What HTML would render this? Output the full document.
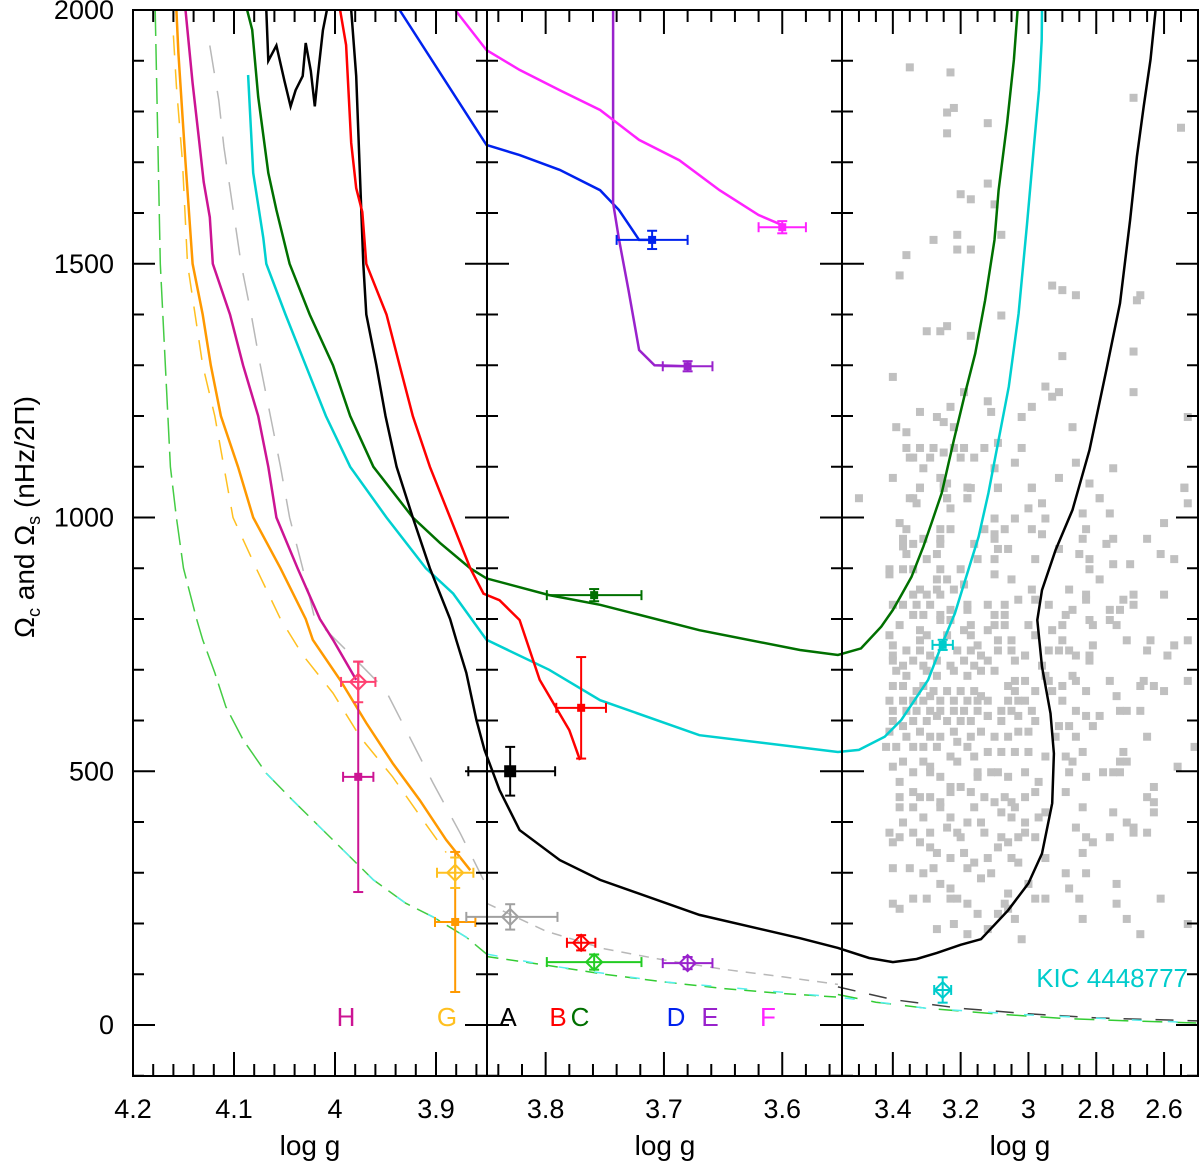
<!DOCTYPE html>
<html><head><meta charset="utf-8"><style>
body{margin:0;background:#fff}
svg{display:block;font-family:"Liberation Sans",sans-serif}
</style></head><body>
<div style="position:relative;width:1200px;height:1165px">
<svg id="chart" width="1200" height="1165" viewBox="0 0 1200 1165" style="position:absolute;left:0;top:0">
<defs><clipPath id="plotclip"><rect x="133" y="10" width="1065" height="1066"/></clipPath></defs>
<g id="scatter" clip-path="url(#plotclip)"></g>
<g id="curves" clip-path="url(#plotclip)"></g>
<g id="points"></g>
<g id="axes"></g>
<g id="labels"></g>
<text x="310" y="1155" text-anchor="middle" font-size="28">log  g</text>
<text x="665" y="1155" text-anchor="middle" font-size="28">log  g</text>
<text x="1020" y="1155" text-anchor="middle" font-size="28">log  g</text>
<text transform="translate(34,517) rotate(-90)" text-anchor="middle" font-size="28">Ω<tspan font-size="18" dy="6">c</tspan><tspan dy="-6"> and Ω</tspan><tspan font-size="18" dy="6">s</tspan><tspan dy="-6"> (nHz/2Π)</tspan></text>
<g font-size="26">
 <text x="346" y="1026" fill="#cc1493" text-anchor="middle">H</text>
 <text x="447" y="1026" fill="#ffc020" text-anchor="middle">G</text>
 <text x="508" y="1026" fill="#000" text-anchor="middle">A</text>
 <text x="558" y="1026" fill="#ff0000" text-anchor="middle">B</text>
 <text x="580" y="1026" fill="#007000" text-anchor="middle">C</text>
 <text x="676" y="1026" fill="#0022ee" text-anchor="middle">D</text>
 <text x="710" y="1026" fill="#9922cc" text-anchor="middle">E</text>
 <text x="768" y="1026" fill="#ff22ff" text-anchor="middle">F</text>
 <text x="1188" y="987" fill="#00cccc" text-anchor="end">KIC  4448777</text>
</g>
</svg>
</div>
<script>
// ---- data ----
const yTicks = [0, 500, 1000, 1500, 2000];
const xTickLabels = ["4.2","4.1","4","3.9","3.8","3.7","3.6","3.4","3.2","3","2.8","2.6"];
const xTickValues = [4.2,4.1,4.0,3.9,3.8,3.7,3.6,3.4,3.2,3.0,2.8,2.6];

const curveNames = ["green-lower","gray-dashed","yellow-dashed","orange-G","magenta-H","cyan","darkgreen","black-A","red-B","blue-D","purple-E","pink-F","gray-lower","green-lower-2","gray-p3","green-p3","cyan-lower"];
const curveColors = ["#44cc44","#b8b8b8","#ffc020","#ff9900","#cc1493","#00d0d0","#007000","#000000","#ff0000","#0022ee","#9922cc","#ff22ff","#b8b8b8","#33cc33","#404040","#33cc33","#55eeee"];
const curveDash = ["26 8","28 18","20 14","","","","","","","","","","10 8","12 8","18 14","20 14","10 26"];
const curveG = [
 [4.178,4.173,4.163,4.157,4.15,4.137,4.131,4.119,4.108,4.091,4.068,4.042,4.015,3.985,3.962,3.93,3.903,3.87,3.85],
 [4.124,4.115,4.11,4.093,4.083,4.074,4.064,4.054,4.045,4.032,4.02,3.982,3.95,3.926,3.903,3.876,3.853],
 [4.16,4.157,4.151,4.146,4.131,4.119,4.101,4.078,4.054,4.032,4.002,3.975,3.943,3.913,3.89],
 [4.157,4.155,4.148,4.141,4.131,4.123,4.113,4.096,4.081,4.054,4.029,4.022,3.995,3.969,3.943,3.916,3.89,3.866],
 [4.148,4.141,4.135,4.13,4.124,4.121,4.104,4.091,4.076,4.066,4.058,4.037,4.015,4.002,3.979],
 [4.086,4.081,4.071,4.068,4.049,4.029,4.009,3.985,3.949,3.91,3.883,3.85,3.797,3.754,3.67,3.553,3.5,3.424,3.375,3.296,3.256,3.217,3.177,3.147,3.118,3.088,3.058,3.029,3.004,2.984,2.969,2.961,2.96],
 [4.087,4.082,4.076,4.066,4.058,4.045,4.025,4.002,3.985,3.962,3.923,3.896,3.866,3.85,3.797,3.754,3.67,3.585,3.553,3.494,3.434,3.40,3.375,3.345,3.31,3.286,3.256,3.22,3.187,3.157,3.128,3.10,3.088,3.063,3.043,3.032],
 [4.068,4.066,4.058,4.05,4.044,4.039,4.032,4.029,4.024,4.02,4.017,4.012,4.008,3.99,3.984,3.984,3.979,3.972,3.969,3.959,3.95,3.939,3.923,3.906,3.886,3.88,3.87,3.86,3.852,3.839,3.822,3.788,3.754,3.67,3.585,3.553,3.47,3.40,3.33,3.27,3.2,3.14,3.06,3.0,2.96,2.93,2.925,2.935,2.96,2.974,2.96,2.92,2.87,2.82,2.77,2.73,2.70,2.68,2.66,2.64,2.625],
 [3.995,3.989,3.984,3.979,3.973,3.969,3.949,3.936,3.923,3.906,3.886,3.866,3.853,3.839,3.822,3.805,3.78,3.771],
 [3.936,3.85,3.822,3.788,3.754,3.738,3.721,3.71],
 [3.743,3.743,3.738,3.73,3.721,3.708,3.68],
 [3.881,3.85,3.822,3.788,3.754,3.721,3.687,3.653,3.62,3.6],
 [3.85,3.8,3.75,3.7,3.65,3.6,3.553],
 [3.85,3.8,3.75,3.7,3.65,3.6,3.553],
 [3.553,3.4,3.2,3.0,2.8,2.5],
 [3.553,3.45,3.3,3.1,2.9,2.7,2.5],
 [4.068,4.042,4.015,3.985,3.962,3.93,3.903,3.87,3.85,3.8,3.7,3.553,3.3,3.0,2.5]
];
const curveV = [
 [2000,1500,1100,1000,900,800,759,694,627,562,496,443,390,331,286,240,213,173,140],
 [1930,1822,1730,1500,1400,1300,1200,1100,1000,900,800,725,660,567,477,378,286],
 [1950,1850,1700,1500,1300,1200,1000,900,800,729,654,567,489,404,340],
 [2000,1915,1700,1500,1400,1300,1200,1100,1000,900,800,759,680,595,516,443,365,305],
 [2000,1856,1750,1661,1592,1500,1400,1300,1200,1100,1000,900,800,759,680],
 [1872,1679,1551,1500,1400,1300,1200,1100,1000,900,850,759,700,640,571,538,542,568,601,680,749,811,897,962,1048,1153,1258,1402,1580,1731,1842,1941,2000],
 [2000,1961,1829,1679,1606,1500,1400,1300,1200,1100,1000,950,900,880,847,828,778,739,729,742,785,818,847,883,943,989,1048,1153,1245,1323,1428,1547,1645,1777,1902,2000],
 [2000,1900,1930,1860,1810,1842,1870,1935,1880,1810,1870,1960,2000,2100,2100,2000,1870,1500,1400,1300,1200,1100,1000,900,800,759,694,601,542,463,384,325,286,217,171,152,132,124,130,142,158,169,226,279,338,437,535,614,706,798,857,936,1015,1133,1291,1422,1586,1711,1810,1902,2000],
 [2000,1931,1738,1649,1602,1500,1400,1300,1200,1100,1000,900,850,837,798,680,581,522],
 [2000,1734,1714,1685,1645,1606,1547,1547],
 [2000,1620,1548,1448,1330,1300,1298],
 [2000,1921,1882,1842,1803,1744,1704,1645,1596,1576],
 [240,185,150,128,110,95,80],
 [135,118,100,85,72,62,55],
 [75,50,33,22,14,8],
 [60,45,33,22,13,8,4],
 [496,443,390,331,286,240,213,173,140,118,85,55,33,20,4]
];

// measurement points: logg, value, xerr, yerr
const ptNames = ["H-square","H-diamond","G-square","G-diamond","A-square","A-diamond","B-square","B-diamond","C-square","C-diamond","D-square","E-square","E-diamond","F-square","KIC-square","KIC-diamond"];
const ptG = [3.977,3.977,3.881,3.881,3.83,3.83,3.77,3.77,3.759,3.759,3.71,3.68,3.68,3.60,3.253,3.253];
const ptV = [489,676,203,300,500,213,625,162,847,124,1547,1298,122,1572,749,69];
const ptXe = [0.015,0.017,0.02,0.018,0.038,0.04,0.021,0.012,0.04,0.04,0.03,0.021,0.021,0.02,0.03,0.025];
const ptYe = [227,40,138,30,48,25,100,15,12,15,18,10,12,12,10,25];
const ptShape = ["s","d","s","d","S","d","s","d","s","d","s","s","d","s","s","d"];
const ptColor = ["#cc1493","#ff4070","#ff9900","#ffc020","#000000","#a0a0a0","#ff0000","#ff0000","#007000","#22cc22","#0022ee","#9922cc","#9922cc","#ff22ff","#00cccc","#00cccc"];

const scG = [3.35,3.23,3.22,3.24,3.12,3.24,2.69,2.55,3.12,3.20,3.17,3.10,3.21,3.08,3.28,3.21,3.17,3.36,3.38,2.93,2.90,2.86,2.67,2.68,3.08,3.30,3.26,3.24,3.17,2.69,2.90,3.40,3.19,2.95,2.91,2.93,2.69,3.12,3.23,3.11,2.99,3.32,3.27,3.25,3.02,2.53,3.39,3.36,3.22,2.87,3.36,3.32,3.28,3.22,3.19,3.13,3.09,3.02,3.25,3.35,3.34,3.29,3.20,3.16,3.31,3.10,3.04,2.86,2.75,3.40,3.26,3.24,3.32,3.25,3.17,3.09,2.99,2.91,2.82,2.54,3.50,3.35,3.24,3.18,2.79,
3.32,3.25,3.18,3.09,2.99,2.82,2.54,3.34,3.24,3.18,2.96,2.79,2.53,3.33,3.23,3.00,2.84,2.76,3.38,3.26,3.23,3.10,3.04,2.95,2.60,3.36,3.13,3.07,2.99,2.83,3.37,3.31,3.26,3.10,2.96,3.34,3.37,3.26,3.16,3.10,2.84,2.75,2.65,2.77,3.36,3.27,3.09,3.06,2.85,2.82,2.61,2.91,3.41,3.41,3.37,3.34,3.30,3.26,3.20,3.15,3.10,2.98,2.82,2.75,2.70,2.57,3.10,3.05,2.79,3.27,3.24,3.32,3.27,3.22,2.99,2.88,3.19,3.34,3.30,3.26,3.03,2.98,2.83,2.72,2.69,2.60,3.40,3.37,3.33,3.29,3.18,3.12,3.07,2.94,2.69,2.83,3.34,3.31,3.26,3.23,3.18,3.10,3.07,2.89,2.87,2.82,2.76,2.76,2.73,3.38,3.26,3.23,3.17,3.12,3.10,3.07,3.00,2.93,2.90,2.81,2.74,3.41,3.32,3.30,3.24,3.19,3.17,2.98,3.40,3.32,3.15,3.09,3.05,2.90,2.81,2.71,2.64,2.57,2.53,3.40,3.36,3.32,3.29,3.21,3.17,3.14,3.09,3.05,3.01,2.94,2.91,2.88,2.86,2.82,2.65,2.59,3.40,3.37,3.34,3.31,3.27,3.23,3.19,3.16,3.12,3.04,3.01,2.96,2.82,3.39,3.36,3.30,3.27,3.22,3.18,3.14,3.10,3.04,3.01,2.95,2.94,2.87,2.86,2.76,2.67,2.66,2.63,2.53,3.40,3.37,3.33,3.31,3.28,3.24,3.20,3.16,3.14,3.06,3.04,2.98,2.93,2.90,2.83,2.60,3.41,3.37,3.34,3.31,3.29,3.26,3.22,3.18,3.15,3.12,3.06,3.03,3.01,2.90,2.74,3.40,3.36,3.33,3.29,3.26,3.22,3.19,3.15,3.12,3.08,3.05,2.99,2.86,2.73,2.71,2.67,3.40,3.37,3.34,3.30,3.27,3.24,3.20,3.17,3.12,3.08,3.03,2.98,2.91,2.88,2.83,2.79,2.81,3.41,3.36,3.32,3.29,3.26,3.22,3.17,3.14,3.10,3.06,3.03,3.00,2.92,2.86,2.65,3.42,3.39,3.34,3.31,3.27,3.21,3.18,3.12,3.08,3.04,3.00,2.95,2.89,2.84,2.72,2.51,3.37,3.31,3.29,3.23,3.21,3.16,2.87,2.73,2.71,2.56,3.40,3.34,3.29,3.15,3.11,3.09,3.06,3.01,2.97,2.88,2.83,2.78,2.75,2.73,3.38,3.26,3.15,3.23,3.20,3.17,3.23,3.34,3.32,3.29,3.26,3.38,3.13,3.10,3.07,3.05,3.01,2.98,2.89,2.63,2.65,2.63,3.38,3.34,3.26,3.16,3.08,3.04,2.95,2.84,2.75,2.63,3.37,3.31,3.23,3.18,3.14,3.05,3.01,2.97,2.71,3.41,3.34,3.29,3.24,3.21,3.13,3.08,3.03,3.01,2.98,2.86,2.69,2.65,3.40,3.38,3.32,3.29,3.20,3.09,3.06,2.83,2.81,2.76,2.69,3.27,3.23,3.19,3.12,3.05,3.03,3.16,2.95,2.84,3.40,3.35,3.31,3.28,3.18,3.11,2.89,2.83,3.14,3.26,3.23,3.06,3.00,2.88,2.74,3.34,3.30,3.23,3.21,2.98,2.95,2.85,2.61,3.40,3.38,3.18,3.07,3.06,2.74,3.15,3.09,3.04,2.84,2.71,3.27,3.22,3.12,3.18,3.02,2.53,2.67];
const scV = [1887,1877,1807,1798,1777,1757,1827,1768,1658,1637,1627,1617,1557,1557,1547,1528,1528,1517,1477,1457,1448,1438,1438,1428,1398,1367,1367,1377,1358,1327,1318,1277,1247,1258,1247,1238,1247,1229,1218,1208,1218,1208,1198,1188,1198,1198,1178,1168,1178,1178,1137,1137,1137,1137,1137,1137,1147,1137,1128,1118,1118,1118,1118,1118,1097,1097,1108,1108,1097,1078,1078,1067,1058,1058,1058,1058,1058,1078,1067,1058,1038,1038,1038,1038,1038,
1059,1067,1059,1059,1059,1067,1059,1038,1038,1038,1028,1038,1028,1028,1018,1018,1008,1008,989,977,977,998,998,998,989,977,977,977,977,977,958,958,958,967,967,948,943,948,948,958,958,958,958,948,928,928,938,938,928,918,928,938,898,888,898,898,918,898,898,918,918,918,898,908,908,918,888,878,878,878,878,858,858,858,858,858,868,848,848,848,838,838,848,838,848,848,828,828,828,828,828,828,828,828,828,838,808,808,808,818,818,808,808,808,818,798,818,798,818,788,798,798,788,778,788,788,788,778,788,788,788,768,778,768,768,778,768,768,748,758,748,758,758,758,748,758,758,748,758,728,738,738,728,738,738,728,738,738,728,738,738,738,728,728,738,728,718,708,718,708,718,708,718,708,718,718,728,708,718,698,688,698,688,698,688,698,698,678,678,688,678,688,678,678,668,678,668,678,668,668,658,668,658,658,658,658,648,668,658,658,658,668,658,658,639,639,639,639,648,639,639,639,639,639,639,639,639,639,648,619,619,619,619,619,619,619,619,609,619,619,619,619,619,619,619,599,589,599,599,609,599,599,599,609,599,609,599,589,589,609,609,589,578,568,578,568,568,578,568,578,568,568,578,578,568,568,568,548,548,548,548,548,558,548,538,538,538,538,529,529,538,538,548,519,519,509,529,519,529,519,519,519,509,509,498,498,498,498,498,489,498,479,498,489,498,498,498,479,489,489,469,469,459,459,459,449,449,439,449,449,439,449,439,449,459,459,469,449,439,429,429,429,429,419,429,419,429,419,419,399,409,409,399,399,409,399,409,399,379,379,379,389,379,379,370,370,379,370,389,389,379,360,370,360,350,370,350,360,370,360,370,379,339,329,339,329,329,320,320,329,339,309,309,299,309,309,299,299,299,289,278,269,259,278,269,278,249,249,249,249,249,249,249,249,239,229,239,239,229,239,219,219,209,209,209,189,199,189,179,169,199,179];

// ---- scales ----
const Y0 = 1025, YS = 0.5075;
function yScale(v){ return Y0 - v*YS; }
function xScale(g){
  if (g >= 3.85) return 133 + (4.2 - g)*1010;
  if (g >= 3.55) return 486.5 + (3.85 - g)*1183;
  return 842 + (3.55 - g)*339;
}
const NS = "http://www.w3.org/2000/svg";
function mk(tag, attrs, parent){
  const e = document.createElementNS(NS, tag);
  for (const k in attrs) e.setAttribute(k, attrs[k]);
  parent.appendChild(e); return e;
}
const gSc = document.getElementById('scatter');
const gCu = document.getElementById('curves');
const gPt = document.getElementById('points');
const gAx = document.getElementById('axes');
const gLb = document.getElementById('labels');

// scatter
for (let i=0;i<scG.length;i++){
  const r = mk('rect',{x:xScale(scG[i])-4,y:yScale(scV[i])-4,width:8,height:8,fill:'#c0c0c0'},gSc);
  
  
}
// curves
for (let c=0;c<curveG.length;c++){
  const pts = curveG[c].map((g,i)=>xScale(g).toFixed(1)+','+yScale(curveV[c][i]).toFixed(1)).join(' ');
  const a = {points:pts,fill:'none',stroke:curveColors[c],'stroke-width':(c>=3&&c<=11)?2.5:1.5};
  if (curveDash[c]) a['stroke-dasharray']=curveDash[c];
  const p = mk('polyline',a,gCu);
  
  
}
// measurement points
for (let i=0;i<ptG.length;i++){
  const x = xScale(ptG[i]), y = yScale(ptV[i]), col = ptColor[i];
  const g = mk('g',{stroke:col,'stroke-width':2,fill:'none'},gPt);
  
  
  const x1 = xScale(ptG[i]+ptXe[i]), x2 = xScale(ptG[i]-ptXe[i]);
  const y1 = yScale(ptV[i]+ptYe[i]), y2 = yScale(ptV[i]-ptYe[i]);
  mk('line',{x1:x1,y1:y,x2:x2,y2:y},g);
  mk('line',{x1:x1,y1:y-5,x2:x1,y2:y+5},g);
  mk('line',{x1:x2,y1:y-5,x2:x2,y2:y+5},g);
  mk('line',{x1:x,y1:y1,x2:x,y2:y2},g);
  mk('line',{x1:x-5,y1:y1,x2:x+5,y2:y1},g);
  mk('line',{x1:x-5,y1:y2,x2:x+5,y2:y2},g);
  if (ptShape[i]==='s') mk('rect',{x:x-4,y:y-4,width:8,height:8,fill:col,stroke:'none'},g);
  else if (ptShape[i]==='S') mk('rect',{x:x-6,y:y-6,width:12,height:12,fill:col,stroke:'none'},g);
  else mk('path',{d:`M${x} ${y-8}L${x+8} ${y}L${x} ${y+8}L${x-8} ${y}Z`,fill:'none'},g);
}
// axes
const ax = {stroke:'#000','stroke-width':2};
mk('line',Object.assign({x1:133,y1:10,x2:133,y2:1077},ax),gAx);
mk('line',Object.assign({x1:132,y1:1076,x2:1199,y2:1076},ax),gAx);
mk('line',Object.assign({x1:132,y1:10,x2:1199,y2:10},ax),gAx);
mk('line',Object.assign({x1:487,y1:10,x2:487,y2:1077},ax),gAx);
mk('line',Object.assign({x1:842,y1:10,x2:842,y2:1077},ax),gAx);
mk('line',Object.assign({x1:1198,y1:10,x2:1198,y2:1077},ax),gAx);
for (let v=-100; v<=2000; v+=100){
  const y = yScale(v), L = (v%500===0)?22:11;
  mk('line',Object.assign({x1:133,y1:y,x2:133+L,y2:y},ax),gAx);
  mk('line',Object.assign({x1:487-L,y1:y,x2:487+L,y2:y},ax),gAx);
  mk('line',Object.assign({x1:842-L,y1:y,x2:842+L,y2:y},ax),gAx);
  mk('line',Object.assign({x1:1198-L,y1:y,x2:1198,y2:y},ax),gAx);
}
yTicks.forEach(v=>{
  const t = mk('text',{x:114,y:yScale(v)+9,'text-anchor':'end','font-size':27},gLb);
  t.textContent = v;
  
  
});
function xticks(from,to,step,majorStep){
  for (let g=from; g>=to-1e-9; g-=step){
    const gg = Math.round(g*1000)/1000;
    const major = Math.abs(gg/majorStep - Math.round(gg/majorStep))<1e-6;
    const x = xScale(gg), L = major?24:12;
    mk('line',Object.assign({x1:x,y1:1076,x2:x,y2:1076-L},ax),gAx);
    mk('line',Object.assign({x1:x,y1:10,x2:x,y2:10+L},ax),gAx);
  }
}
xticks(4.18,3.86,0.02,0.1);
xticks(3.84,3.56,0.02,0.1);
xticks(3.5,2.55,0.05,0.2);
xTickValues.forEach((g,i)=>{
  const t = mk('text',{x:xScale(g),y:1118,'text-anchor':'middle','font-size':27},gLb);
  t.textContent = xTickLabels[i];
  
  
});
</script>
</body></html>
